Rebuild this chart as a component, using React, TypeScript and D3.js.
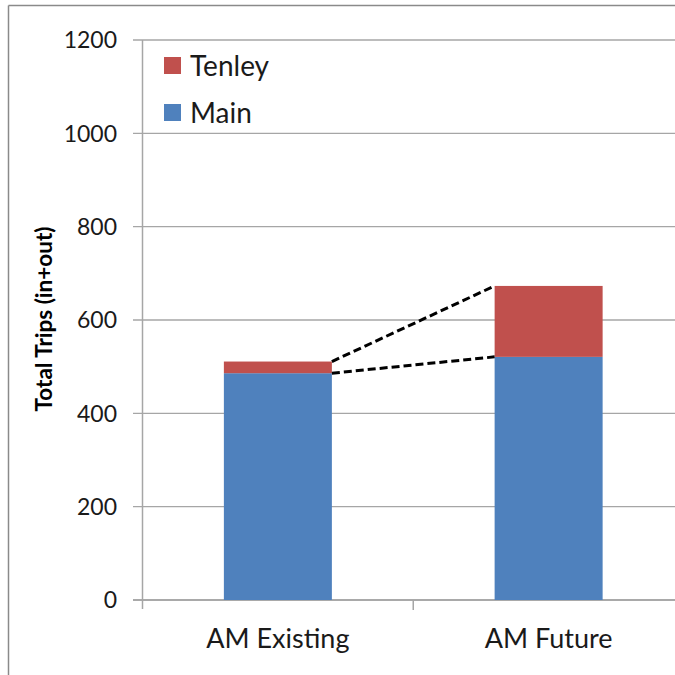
import React from "react";
import * as d3 from "d3";

const categories = ["AM Existing", "AM Future"];
const mainValues = [486, 521];
const tenleyValues = [25, 152];
const seriesNames = ["Tenley", "Main"];
const yTicks = [0, 200, 400, 600, 800, 1000, 1200];

const W = 675;
const H = 675;
const FONT = "Lato, 'Open Sans', sans-serif";
const RED = "#C0504D";
const BLUE = "#4F81BD";

export default function App() {
  const left = 142.5;
  const right = 684;
  const top = 40;
  const bottom = 600;
  const y = d3.scaleLinear().domain([0, 1200]).range([bottom, top]);
  const x = d3.scaleBand().domain(categories).range([left, right]).paddingInner(0).paddingOuter(0);
  const bw = 108;
  const cx = (c: string) => (x(c) as number) + x.bandwidth() / 2;
  const stacked = categories.map((c, i) => ({
    c,
    main: mainValues[i],
    total: mainValues[i] + tenleyValues[i],
  }));
  const b0 = stacked[0];
  const b1 = stacked[1];
  const x0r = cx(b0.c) + bw / 2;
  const x1l = cx(b1.c) - bw / 2;
  const line = d3.line<[number, number]>();

  return (
    <svg
      width={W}
      height={H}
      style={{ position: "absolute", left: 0, top: 0, background: "#fff" }}
      fontFamily={FONT}
    >
      {/* outer frame */}
      <line x1={8.5} y1={5.5} x2={W} y2={5.5} stroke="#8a8a8a" strokeWidth={1.5} />
      <line x1={8.5} y1={5.5} x2={8.5} y2={H} stroke="#8a8a8a" strokeWidth={1.5} />

      {/* gridlines */}
      {yTicks.map((t) => (
        <g key={t}>
          <line x1={133} x2={W} y1={y(t)} y2={y(t)} stroke={t === 0 ? "#8c8c8c" : "#a6a6a6"} strokeWidth={1.3} />
          <text x={117} y={y(t)} dy="0.36em" textAnchor="end" fontSize={23} fill="#1a1a1a">
            {t}
          </text>
        </g>
      ))}
      {/* y axis */}
      <line x1={left} x2={left} y1={top} y2={bottom + 9} stroke="#a6a6a6" strokeWidth={1.5} />
      {/* category separator tick */}
      {categories.slice(1).map((c) => (
        <line key={c} x1={x(c) as number} x2={x(c) as number} y1={bottom} y2={bottom + 10} stroke="#a6a6a6" strokeWidth={1.5} />
      ))}

      {/* bars */}
      {stacked.map((d) => (
        <g key={d.c}>
          <rect x={cx(d.c) - bw / 2} width={bw} y={y(d.main)} height={y(0) - y(d.main)} fill={BLUE} />
          <rect x={cx(d.c) - bw / 2} width={bw} y={y(d.total)} height={y(d.main) - y(d.total)} fill={RED} />
          <text x={cx(d.c)} y={648} textAnchor="middle" fontSize={27} fill="#1a1a1a">
            {d.c}
          </text>
        </g>
      ))}

      {/* dashed connectors */}
      <path
        d={line([[x0r, y(b0.total)], [x1l, y(b1.total)]]) as string}
        stroke="#000"
        strokeWidth={3}
        strokeDasharray="8,4"
        fill="none"
      />
      <path
        d={line([[x0r, y(b0.main)], [x1l, y(b1.main)]]) as string}
        stroke="#000"
        strokeWidth={3}
        strokeDasharray="8,4"
        fill="none"
      />

      {/* legend */}
      {seriesNames.map((s, i) => (
        <g key={s} transform={`translate(164, ${57 + i * 47})`}>
          <rect x={0} y={0} width={17} height={17} fill={i === 0 ? RED : BLUE} />
          <text x={26} y={8.5} dy="0.36em" fontSize={28} fill="#1a1a1a">
            {s}
          </text>
        </g>
      ))}

      {/* y title */}
      <text
        transform={`translate(52, 319) rotate(-90)`}
        textAnchor="middle"
        fontSize={22.5}
        fontWeight="bold"
        fill="#000"
      >
        Total Trips (in+out)
      </text>
    </svg>
  );
}
